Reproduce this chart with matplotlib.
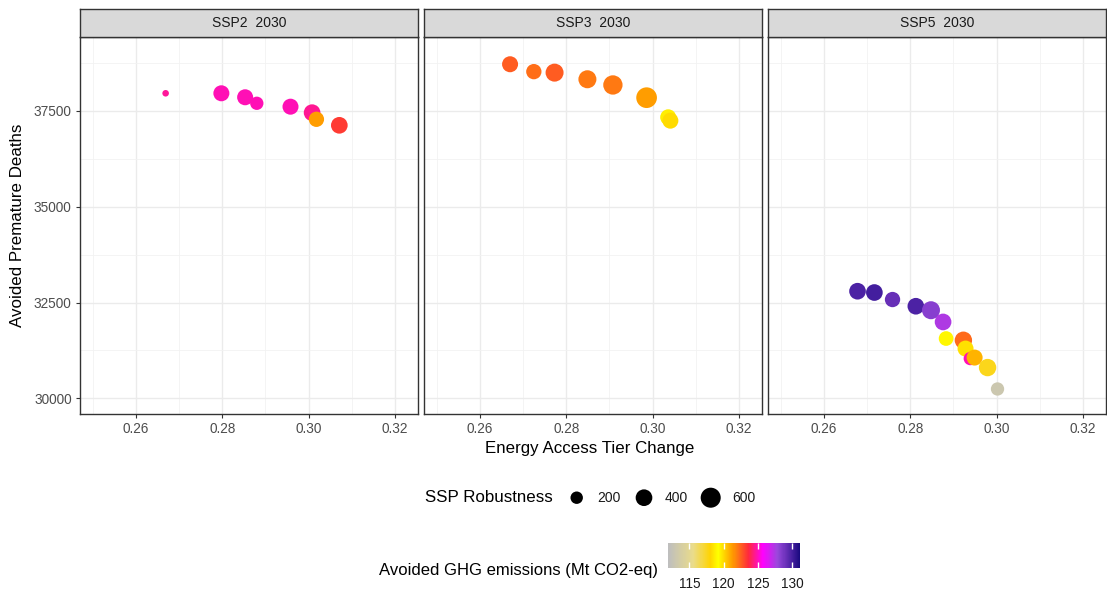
import matplotlib
matplotlib.use("Agg")
import matplotlib.pyplot as plt
import numpy as np
from matplotlib.colors import LinearSegmentedColormap, Normalize
import matplotlib.colorbar as mcolorbar

plt.rcParams['font.family'] = ['Liberation Sans', 'DejaVu Sans']

# ---------------- data ----------------
panels = ["SSP2  2030", "SSP3  2030", "SSP5  2030"]

ssp2_x = [0.2669, 0.2798, 0.2853, 0.2880, 0.2958, 0.3008, 0.3018, 0.3071]
ssp2_y = [37962, 37962, 37858, 37701, 37612, 37456, 37283, 37126]
ssp2_ghg = [124.6, 124.9, 124.9, 124.9, 124.9, 124.5, 121.2, 123.3]
ssp2_rob = [20, 365, 365, 237, 365, 400, 330, 400]

ssp3_x = [0.2670, 0.2725, 0.2773, 0.2849, 0.2908, 0.2986, 0.3036, 0.3041]
ssp3_y = [38720, 38527, 38501, 38328, 38179, 37847, 37335, 37247]
ssp3_ghg = [122.6, 122.2, 122.6, 122.0, 122.0, 121.2, 118.8, 118.2]
ssp3_rob = [365, 330, 475, 475, 555, 643, 365, 365]

ssp5_x = [0.2678, 0.2717, 0.2759, 0.2813, 0.2848, 0.2876, 0.2883, 0.2923,
          0.2928, 0.2939, 0.2949, 0.2979, 0.3002]
ssp5_y = [32795, 32761, 32578, 32403, 32299, 31993, 31560, 31515,
          31298, 31037, 31063, 30802, 30243]
ssp5_ghg = [129.8, 130.0, 129.1, 129.8, 128.3, 127.4, 119.0, 122.3,
            118.4, 124.9, 120.8, 117.6, 113.0]
ssp5_rob = [400, 400, 330, 400, 475, 400, 300, 440, 365, 237, 365, 440, 237]

size_breaks = [200, 400, 600]
ghg_breaks = [115, 120, 125, 130]
ghg_limits = (111.9, 131.1)

x_ticks = [0.26, 0.28, 0.30, 0.32]
y_ticks = [30000, 32500, 35000, 37500]

# ---------------- style ----------------
W, H = 1107, 591
fig = plt.figure(figsize=(W / 100, H / 100), dpi=100)

cmap = LinearSegmentedColormap.from_list(
    "ghg",
    [(0.0, "#bebebe"), (0.19, "#eadc8a"), (0.32, "#ffd400"), (0.38, "#ffff00"),
     (0.49, "#ff9a00"), (0.61, "#ff2a3c"), (0.72, "#ff00ff"), (0.83, "#9a48dc"),
     (1.0, "#1a0a80")])
norm = Normalize(*ghg_limits)


def size_map(v):
    return 16 + 0.32 * np.asarray(v, dtype=float)


def px2fig(x, y, w, h):
    return [x / W, 1 - (y + h) / H, w / W, h / H]


lefts = [80, 424, 768]
top, bottom = 36.7, 414
pw = 338
data = [(ssp2_x, ssp2_y, ssp2_ghg, ssp2_rob),
        (ssp3_x, ssp3_y, ssp3_ghg, ssp3_rob),
        (ssp5_x, ssp5_y, ssp5_ghg, ssp5_rob)]

for i, (left, name, (xs, ys, gs, rs)) in enumerate(zip(lefts, panels, data)):
    ax = fig.add_axes(px2fig(left, top, pw, bottom - top))
    ax.set_xlim(0.24708, 0.32531)
    ax.set_ylim(29590, 39439)
    ax.set_xticks(x_ticks)
    ax.set_xticklabels([f"{t:.2f}" for t in x_ticks])
    ax.set_xticks([0.25, 0.27, 0.29, 0.31], minor=True)
    ax.set_yticks(y_ticks)
    ax.set_yticks([31250, 33750, 36250, 38750], minor=True)
    ax.grid(True, which="major", color="#ebebeb", lw=1.0)
    ax.grid(True, which="minor", color="#f2f2f2", lw=0.6)
    ax.set_axisbelow(True)
    for sp in ax.spines.values():
        sp.set_color("#333333")
        sp.set_linewidth(1.0)
    ax.tick_params(which="major", length=3, width=0.8, color="#333333",
                   labelcolor="#4d4d4d", labelsize=9.8, pad=3)
    ax.tick_params(which="minor", length=0)
    if i > 0:
        ax.tick_params(axis="y", left=False, labelleft=False)
    ax.scatter(xs, ys, s=size_map(rs), c=gs, cmap=cmap, norm=norm,
               edgecolors="none", zorder=3)

    sax = fig.add_axes(px2fig(left, 9, pw, top - 9))
    sax.set_facecolor("#d9d9d9")
    sax.set_xticks([])
    sax.set_yticks([])
    for sp in sax.spines.values():
        sp.set_color("#333333")
        sp.set_linewidth(1.0)
    sax.text(0.5, 0.5, name, ha="center", va="center", fontsize=10,
             color="#1a1a1a", transform=sax.transAxes)

fig.text(590 / W, 1 - 449 / H, "Energy Access Tier Change", ha="center",
         va="center", fontsize=12.2, color="black")
fig.text(18 / W, 1 - 225 / H, "Avoided Premature Deaths", ha="center",
         va="center", rotation=90, fontsize=12.2, color="black")

# size legend
lax = fig.add_axes([0, 0, 1, 1])
lax.set_xlim(0, W)
lax.set_ylim(H, 0)
lax.axis("off")
leg_x = [576.7, 644, 710.7]
lax.scatter(leg_x, [497.7] * 3, s=size_map(size_breaks), c="black",
            edgecolors="none")
fig.text(425 / W, 1 - 497.7 / H, "SSP Robustness", ha="left", va="center",
         fontsize=12.2)
for lx, b in zip([597.7, 665, 732.7], size_breaks):
    fig.text(lx / W, 1 - 497.7 / H, str(b), ha="left", va="center",
             fontsize=10, color="#1a1a1a")

# colour bar legend
cax = fig.add_axes(px2fig(668, 543.3, 132, 25))
cb = mcolorbar.ColorbarBase(cax, cmap=cmap, norm=norm, orientation="horizontal")
cb.outline.set_visible(False)
cb.set_ticks(ghg_breaks)
cax.tick_params(axis="x", direction="in", length=4, width=1, color="white",
                top=True, bottom=True, labelcolor="#1a1a1a", labelsize=9.8,
                pad=6)
fig.text(658 / W, 1 - 570 / H, "Avoided GHG emissions (Mt CO2-eq)",
         ha="right", va="center", fontsize=12.0)

fig.savefig("out.png", dpi=100)
